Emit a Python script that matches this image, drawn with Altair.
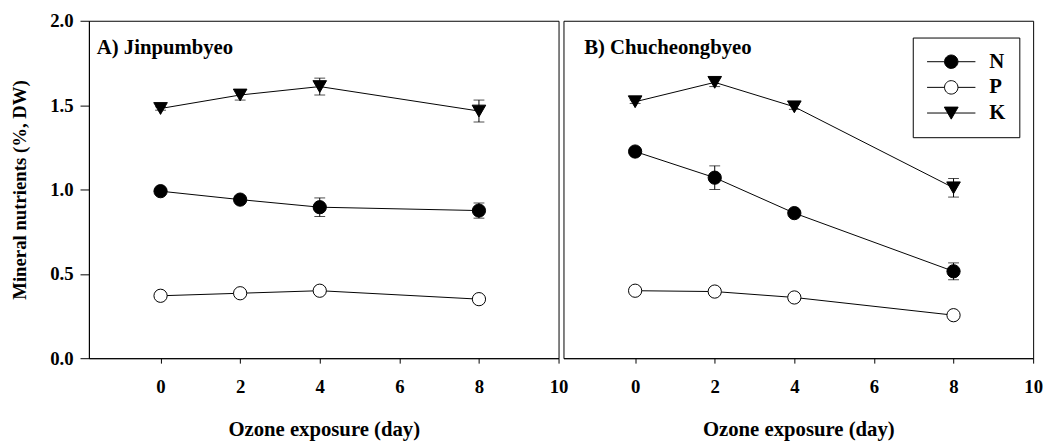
import altair as alt
import pandas as pd

FONT = "Liberation Serif"

days = [0, 2, 4, 8]
nutrients = ["N", "P", "K"]
panels = ["A", "B"]
panel_labels = ["A) Jinpumbyeo", "B) Chucheongbyeo"]

# Panel A (Jinpumbyeo)
a_N = [0.99, 0.94, 0.895, 0.875]
a_N_se = [0.01, 0.02, 0.055, 0.045]
a_P = [0.37, 0.385, 0.40, 0.35]
a_P_se = [0.01, 0.01, 0.01, 0.01]
a_K = [1.48, 1.56, 1.61, 1.465]
a_K_se = [0.01, 0.03, 0.05, 0.065]

# Panel B (Chucheongbyeo)
b_N = [1.225, 1.07, 0.86, 0.515]
b_N_se = [0.015, 0.07, 0.02, 0.05]
b_P = [0.40, 0.395, 0.36, 0.255]
b_P_se = [0.01, 0.01, 0.01, 0.01]
b_K = [1.52, 1.635, 1.49, 1.01]
b_K_se = [0.01, 0.025, 0.015, 0.055]

series = {
    ("A", "N"): (a_N, a_N_se), ("A", "P"): (a_P, a_P_se), ("A", "K"): (a_K, a_K_se),
    ("B", "N"): (b_N, b_N_se), ("B", "P"): (b_P, b_P_se), ("B", "K"): (b_K, b_K_se),
}
rows = []
for (p, n), (vals, ses) in series.items():
    for d, v, s in zip(days, vals, ses):
        rows.append({"panel": p, "nutrient": n, "day": d, "value": v, "se": s})
df = pd.DataFrame(rows)

# legend symbols: line with marker; symbolSize 400 -> 1 unit = 10 px
PATH_N = "M-2.45,0L-0.68,0M0.68,0L2.45,0M0.68,0A0.68,0.68,0,1,1,-0.68,0A0.68,0.68,0,1,1,0.68,0Z"
PATH_P = PATH_N
PATH_K = "M-2.45,0L2.45,0M-0.7,-0.6L0.7,-0.6L0,0.62Z"

XDOM = [-1.8, 10]
W, H = 476, 342


def xenc(field="day"):
    return alt.X(
        f"{field}:Q",
        scale=alt.Scale(domain=XDOM, nice=False, zero=False),
        axis=alt.Axis(values=[0, 2, 4, 6, 8, 10], title="Ozone exposure (day)",
                      tickSize=5, labelPadding=15, titlePadding=22,
                      labelFlush=False, labelOverlap=False, grid=False),
    )


def yenc(field, show):
    ax = alt.Axis(values=[0, 0.5, 1.0, 1.5, 2.0], format=".1f",
                  title="Mineral nutrients (%, DW)", tickSize=9, titleFontSize=19,
                  labelPadding=7, titlePadding=21, grid=False) if show else None
    return alt.Y(f"{field}:Q", scale=alt.Scale(domain=[0, 2], nice=False, zero=False), axis=ax)


def panel(idx, show_y, with_legend):
    name = panels[idx]
    base = alt.Chart(df).transform_filter(alt.datum.panel == name)
    bars = base.transform_calculate(lo="datum.value - datum.se", hi="datum.value + datum.se")
    lines = base.mark_line(color="black", strokeWidth=1).encode(
        x=xenc(), y=yenc("value", show_y), detail="nutrient:N")
    rule = bars.mark_rule(color="black", strokeWidth=1).encode(
        x=xenc(), y=yenc("lo", show_y), y2="hi:Q")
    cap_lo = bars.mark_tick(orient="horizontal", size=11, thickness=1, color="black").encode(
        x=xenc(), y=yenc("lo", show_y))
    cap_hi = bars.mark_tick(orient="horizontal", size=11, thickness=1, color="black").encode(
        x=xenc(), y=yenc("hi", show_y))
    pN = base.transform_filter(alt.datum.nutrient == "N").mark_point(
        shape="circle", filled=True, fill="black", stroke="black", strokeWidth=1, size=180, opacity=1
    ).encode(x=xenc(), y=yenc("value", show_y))
    pP = base.transform_filter(alt.datum.nutrient == "P").mark_point(
        shape="circle", filled=True, fill="white", stroke="black", strokeWidth=1, size=180, opacity=1
    ).encode(x=xenc(), y=yenc("value", show_y))
    pK = base.transform_filter(alt.datum.nutrient == "K").mark_point(
        shape="triangle-down", filled=True, fill="black", stroke="black", strokeWidth=1, size=190, opacity=1
    ).encode(x=xenc(), y=yenc("value", show_y))
    label = alt.Chart(pd.DataFrame({"t": [panel_labels[idx]]})).mark_text(
        align="left", baseline="middle", font=FONT, fontSize=21, fontWeight="bold", color="black"
    ).encode(x=alt.value(8 if idx == 0 else 21), y=alt.value(28), text="t:N")
    layers = [lines, rule, cap_lo, cap_hi, pN, pP, pK, label]
    if with_legend:
        leg_kwargs = dict(
            orient="none", legendX=835, legendY=17, title=None,
            strokeColor="black", fillColor="white", padding=14,
            symbolSize=400, symbolStrokeWidth=1, symbolOffset=14.5,
            labelFont=FONT, labelFontSize=21, labelFontWeight="bold", labelColor="black",
            labelOffset=28, rowPadding=4, cornerRadius=0,
        )
        leg = alt.Chart(df).transform_filter("datum.value < 0").mark_point(
            filled=True, strokeWidth=1, opacity=1
        ).encode(
            x=xenc(), y=yenc("value", show_y),
            shape=alt.Shape("nutrient:N", scale=alt.Scale(domain=nutrients, range=[PATH_N, PATH_P, PATH_K]),
                            legend=alt.Legend(**leg_kwargs)),
            fill=alt.Fill("nutrient:N", scale=alt.Scale(domain=nutrients, range=["black", "white", "black"]),
                          legend=alt.Legend(**leg_kwargs)),
            stroke=alt.Stroke("nutrient:N", scale=alt.Scale(domain=nutrients, range=["black", "black", "black"]),
                              legend=alt.Legend(**leg_kwargs)),
        )
        layers.append(leg)
    return alt.layer(*layers).properties(width=W, height=H)


chart = alt.hconcat(panel(0, True, False), panel(1, False, True), spacing=5, bounds="flush").properties(
    padding={"left": 1, "top": 0, "right": 0, "bottom": 0}
).configure_view(stroke="black", strokeWidth=1).configure_axis(
    domainColor="black", tickColor="black", labelColor="black", titleColor="black",
    labelFont=FONT, titleFont=FONT, labelFontWeight="bold", titleFontWeight="bold",
    labelFontSize=19, titleFontSize=21, domainWidth=1, tickWidth=1,
)

chart.save("out.html", embed_options={"renderer": "svg", "actions": False})
